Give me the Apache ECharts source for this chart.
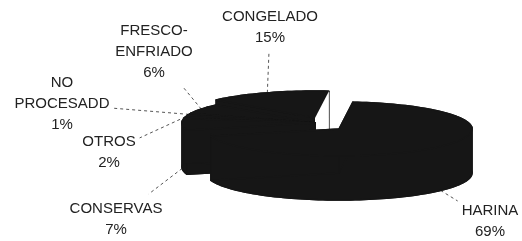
<!DOCTYPE html>
<html>
<head>
<meta charset="utf-8">
<script src="https://cdn.jsdelivr.net/npm/echarts@6/dist/echarts.min.js"></script>
<style>
  html, body { margin: 0; padding: 0; background: #fff; }
  #chart { width: 522px; height: 241px; }
</style>
</head>
<body>
<div id="chart"></div>
<script>
// slices, clockwise starting from the back (HARINA first)
const categories = ['HARINA', 'CONSERVAS', 'OTROS', 'NO\nPROCESADD', 'FRESCO-\nENFRIADO', 'CONGELADO'];
const values = [69, 7, 2, 1, 6, 15];
// how far each slice is pulled out, px
const explodeX = [16, -8, -8, -8, -8, -8];
const explodeY = [6, 0, 0, 0, 0, -5];
// label centres, px
const labelPos = [[490, 221], [116, 219], [109, 152], [62, 104], [154, 52], [270, 27]];

const CX = 323, CY = 123, RX = 133, RY = 27, DEPTH = 44;
const START = -84;           // degrees, clockwise on screen
const FILL = '#161616';
const FONT = '15px "Liberation Sans", Arial, sans-serif';
const LINE_H = 21;

const total = values.reduce((a, b) => a + b, 0);
const measure = document.createElement('canvas').getContext('2d');
measure.font = FONT;

const renderItem = (params, api) => {
    const i = params.dataIndex;
    let before = 0;
    for (let k = 0; k < i; k++) before += values[k];
    const a0 = (START + before / total * 360) * Math.PI / 180;
    const a1 = (START + (before + api.value(0)) / total * 360) * Math.PI / 180;
    const mid = (a0 + a1) / 2;
    const ox = explodeX[i], oy = explodeY[i];
    const pt = (a, z) => [CX + ox + RX * Math.cos(a), CY + oy + RY * Math.sin(a) + z];
    // front slices are painted over back ones
    const depthOrder = Math.round(Math.sin(mid) * 10) + 20;

    const arcPts = (from, to, z) => {
        const m = Math.max(2, Math.ceil((to - from) / (Math.PI / 90)));
        const out = [];
        for (let s = 0; s <= m; s++) out.push(pt(from + (to - from) * s / m, z));
        return out;
    };
    const top = arcPts(a0, a1, 0);
    const bot = arcPts(a0, a1, DEPTH);
    const c0 = [CX + ox, CY + oy];
    const c1 = [CX + ox, CY + oy + DEPTH];
    const style = {fill: FILL, stroke: FILL, lineWidth: 1.5, lineJoin: 'round'};
    const poly = points => ({type: 'polygon', shape: {points}, style, z2: depthOrder});

    const children = [poly([c1].concat(bot))];
    // outer wall, split where the rim turns back so no piece crosses itself;
    // the front pieces tuck 2px under the top face so no seam shows
    const cuts = [a0];
    for (let k = Math.ceil(a0 / Math.PI); k * Math.PI < a1; k++) {
        if (k * Math.PI > a0) cuts.push(k * Math.PI);
    }
    cuts.push(a1);
    for (let s = 0; s < cuts.length - 1; s++) {
        const front = Math.sin((cuts[s] + cuts[s + 1]) / 2) > 0;
        const up = arcPts(cuts[s], cuts[s + 1], front ? -2 : 0);
        const down = arcPts(cuts[s], cuts[s + 1], DEPTH).reverse();
        children.push(poly(up.concat(down)));
    }
    children.push(poly([c0, pt(a0, 0), pt(a0, DEPTH), c1]));
    // the closing cut face of the back slice catches the light
    if (i === values.length - 1) {
        children.push({
            type: 'polygon',
            shape: {points: [c0, pt(a1, 0), pt(a1, DEPTH), c1]},
            style: {fill: '#fff'},
            z2: depthOrder + 1
        });
    } else {
        children.push(poly([c0, pt(a1, 0), pt(a1, DEPTH), c1]));
    }
    children.push(poly([c0].concat(top)));

    // label and dashed leader line
    const text = categories[i] + '\n' + api.value(0) + '%';
    const lines = text.split('\n');
    const w = Math.max(...lines.map(l => measure.measureText(l).width));
    const h = lines.length * LINE_H;
    const [lx, ly] = labelPos[i];
    const start = pt(mid, Math.sin(mid) > 0 ? DEPTH : 0);
    const hw = w / 2 + 4, hh = h / 2 + 4;
    const dx = lx - start[0], dy = ly - start[1];
    // clip the line at the label box edge
    const t = Math.max(0, Math.min(1, Math.max(
        Math.abs(dx) > 1e-6 ? (Math.abs(dx) - hw) / Math.abs(dx) : 0,
        Math.abs(dy) > 1e-6 ? (Math.abs(dy) - hh) / Math.abs(dy) : 0
    )));
    children.push({
        type: 'line',
        shape: {x1: start[0], y1: start[1], x2: start[0] + dx * t, y2: start[1] + dy * t},
        style: {stroke: '#555', lineWidth: 1, lineDash: [3, 3]},
        z2: 5
    });
    children.push({
        type: 'text',
        style: {
            text, x: lx, y: ly, align: 'center', verticalAlign: 'middle',
            font: FONT, fill: '#222', lineHeight: LINE_H
        },
        z2: 100
    });
    return {type: 'group', children};
};

const chart = echarts.init(document.getElementById('chart'), null, {renderer: 'canvas'});
chart.setOption({
    animation: false,
    backgroundColor: '#fff',
    series: [{
        type: 'custom',
        coordinateSystem: 'none',
        renderItem,
        data: values.map(v => [v])
    }]
});
</script>
</body>
</html>
